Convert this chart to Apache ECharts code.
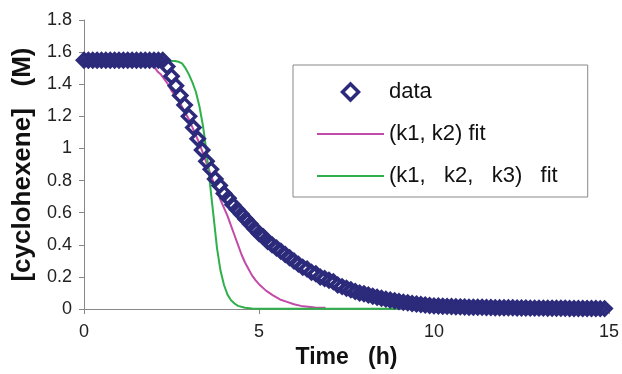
<!DOCTYPE html>
<html>
<head>
<meta charset="utf-8">
<script src="https://cdn.jsdelivr.net/npm/echarts@6/dist/echarts.min.js"></script>
<style>
html,body{margin:0;padding:0;background:#fff;}
#chart{width:622px;height:374px;}
</style>
</head>
<body>
<div id="chart"></div>
<script>
// ---- data ----
var dataTime = [
  0, 0.125, 0.25, 0.375, 0.5, 0.625, 0.75, 0.875, 1, 1.125, 1.25, 1.375, 1.5, 1.625, 1.75, 1.875,
  2, 2.125, 2.25, 2.375, 2.5, 2.625, 2.75, 2.875, 3, 3.125, 3.25, 3.375, 3.5, 3.625, 3.75, 3.875,
  4, 4.125, 4.25, 4.375, 4.5, 4.625, 4.75, 4.875, 5, 5.125, 5.25, 5.375, 5.5, 5.625, 5.75, 5.875,
  6, 6.125, 6.25, 6.375, 6.5, 6.625, 6.75, 6.875, 7, 7.125, 7.25, 7.375, 7.5, 7.625, 7.75, 7.875,
  8, 8.125, 8.25, 8.375, 8.5, 8.625, 8.75, 8.875, 9, 9.125, 9.25, 9.375, 9.5, 9.625, 9.75, 9.875,
  10, 10.125, 10.25, 10.375, 10.5, 10.625, 10.75, 10.875, 11, 11.125, 11.25, 11.375, 11.5, 11.625, 11.75, 11.875,
  12, 12.125, 12.25, 12.375, 12.5, 12.625, 12.75, 12.875, 13, 13.125, 13.25, 13.375, 13.5, 13.625, 13.75, 13.875,
  14, 14.125, 14.25, 14.375, 14.5, 14.625, 14.75, 14.875
];
var dataConc = [
  1.55, 1.55, 1.55, 1.55, 1.55, 1.55, 1.55, 1.55, 1.55, 1.55, 1.55, 1.55, 1.55, 1.55, 1.55, 1.55,
  1.55, 1.55, 1.55, 1.51, 1.45, 1.39, 1.33, 1.27, 1.20, 1.13, 1.06, 0.99, 0.92, 0.87, 0.81, 0.77,
  0.72, 0.69, 0.65, 0.62, 0.59, 0.56, 0.53, 0.50, 0.47, 0.45, 0.42, 0.40, 0.38, 0.36, 0.34, 0.32,
  0.30, 0.28, 0.26, 0.25, 0.23, 0.22, 0.20, 0.19, 0.18, 0.17, 0.15, 0.14, 0.13, 0.12, 0.11, 0.10,
  0.095, 0.088, 0.080, 0.074, 0.068, 0.062, 0.057, 0.052, 0.047, 0.043, 0.039, 0.035, 0.032, 0.029, 0.026, 0.023,
  0.020, 0.019, 0.018, 0.017, 0.016, 0.015, 0.014, 0.013, 0.012, 0.012, 0.011, 0.011, 0.010, 0.010, 0.009, 0.009,
  0.008, 0.008, 0.008, 0.007, 0.007, 0.007, 0.006, 0.006, 0.006, 0.006, 0.005, 0.005, 0.005, 0.005, 0.005, 0.004,
  0.004, 0.004, 0.004, 0.004, 0.004, 0.004, 0.003, 0.003
];

var fit2Time = [0, 1.8, 1.9, 2.0, 2.1, 2.2, 2.3, 2.4, 2.5, 2.6, 2.7, 2.8, 2.9, 3.0, 3.1, 3.2, 3.3, 3.4, 3.5,
  3.6, 3.7, 3.8, 3.9, 4.0, 4.1, 4.2, 4.3, 4.4, 4.5, 4.6, 4.7, 4.8, 4.9, 5.0, 5.2, 5.4, 5.6, 5.8, 6.0, 6.2, 6.4, 6.6, 6.9];
var fit2Conc = [1.55, 1.55, 1.53, 1.51, 1.48, 1.46, 1.43, 1.40, 1.36, 1.33, 1.30, 1.26, 1.22, 1.18, 1.13, 1.08, 1.03, 0.97, 0.91,
  0.85, 0.79, 0.74, 0.68, 0.63, 0.58, 0.52, 0.46, 0.40, 0.34, 0.29, 0.25, 0.21, 0.18, 0.155, 0.115, 0.085, 0.06, 0.045, 0.03, 0.02, 0.015, 0.01, 0.008];

var fit3Time = [0, 2.6, 2.7, 2.8, 2.9, 3.0, 3.1, 3.2, 3.3, 3.4, 3.5, 3.6, 3.7, 3.8, 3.9, 4.0, 4.1, 4.2, 4.3, 4.4, 4.6, 4.8, 5.0, 9.0];
var fit3Conc = [1.545, 1.545, 1.54, 1.53, 1.50, 1.46, 1.41, 1.35, 1.26, 1.14, 0.98, 0.78, 0.58, 0.38, 0.24, 0.15, 0.09, 0.055, 0.035, 0.02, 0.008, 0.003, 0.002, 0.002];

var seriesNames = ['data', '(k1, k2) fit', '(k1,   k2,   k3)   fit'];

var NAVY = '#2c2a7a', PINK = '#c24aa8', GREEN = '#2fb04a', AXIS = '#888888';
var FONT = '"Liberation Sans", Arial, sans-serif';

function zip(a, b) { return a.map(function (v, i) { return [v, b[i]]; }); }

var chart = echarts.init(document.getElementById('chart'), null, {renderer: 'canvas'});
chart.setOption({
  animation: false,
  backgroundColor: '#ffffff',
  grid: {left: 84, right: 10, top: 20, bottom: 54, containLabel: false},
  xAxis: {
    type: 'value', min: 0, max: 15, interval: 5,
    axisLine: {show: true, lineStyle: {color: AXIS, width: 1}},
    axisTick: {show: true, length: 5, lineStyle: {color: AXIS}},
    axisLabel: {fontSize: 18, color: '#222', margin: 14, fontFamily: FONT},
    splitLine: {show: false},
    name: 'Time   (h)', nameLocation: 'middle', nameGap: 31,
    nameTextStyle: {fontSize: 23, fontWeight: 'bold', color: '#111', fontFamily: FONT}
  },
  yAxis: {
    type: 'value', min: 0, max: 1.8, interval: 0.2,
    axisLine: {show: true, lineStyle: {color: AXIS, width: 1}},
    axisTick: {show: true, length: 5, lineStyle: {color: AXIS}},
    axisLabel: {fontSize: 18, color: '#222', margin: 12, fontFamily: FONT},
    splitLine: {show: false},
    name: '[cyclohexene]   (M)', nameLocation: 'middle', nameGap: 45, nameRotate: 90,
    nameTextStyle: {fontSize: 26, fontWeight: 'bold', color: '#111', fontFamily: FONT}
  },
  legend: {
    orient: 'vertical', left: 293, top: 65,
    padding: [16, 30, 10, 23], itemGap: 20, itemWidth: 67, itemHeight: 16,
    symbolKeepAspect: true,
    borderColor: AXIS, borderWidth: 1, backgroundColor: '#fff',
    textStyle: {fontSize: 22, color: '#111', fontFamily: FONT},
    data: [
      {name: seriesNames[0], icon: 'path://M0,8L8,0L16,8L8,16Z',
       itemStyle: {color: 'rgba(255,255,255,0)', borderColor: NAVY, borderWidth: 3.5}},
      {name: seriesNames[1], itemStyle: {opacity: 0}},
      {name: seriesNames[2], itemStyle: {opacity: 0}}
    ]
  },
  series: [
    {
      name: seriesNames[0], type: 'scatter', z: 5,
      symbol: 'diamond', symbolSize: 13,
      itemStyle: {color: 'rgba(255,255,255,0)', borderColor: NAVY, borderWidth: 3.5, opacity: 1},
      data: zip(dataTime, dataConc)
    },
    {
      name: seriesNames[1], type: 'line', z: 3, symbol: 'none', showSymbol: false,
      lineStyle: {color: PINK, width: 2}, itemStyle: {color: PINK},
      data: zip(fit2Time, fit2Conc)
    },
    {
      name: seriesNames[2], type: 'line', z: 3, symbol: 'none', showSymbol: false,
      lineStyle: {color: GREEN, width: 2}, itemStyle: {color: GREEN},
      data: zip(fit3Time, fit3Conc)
    }
  ]
});
</script>
</body>
</html>
